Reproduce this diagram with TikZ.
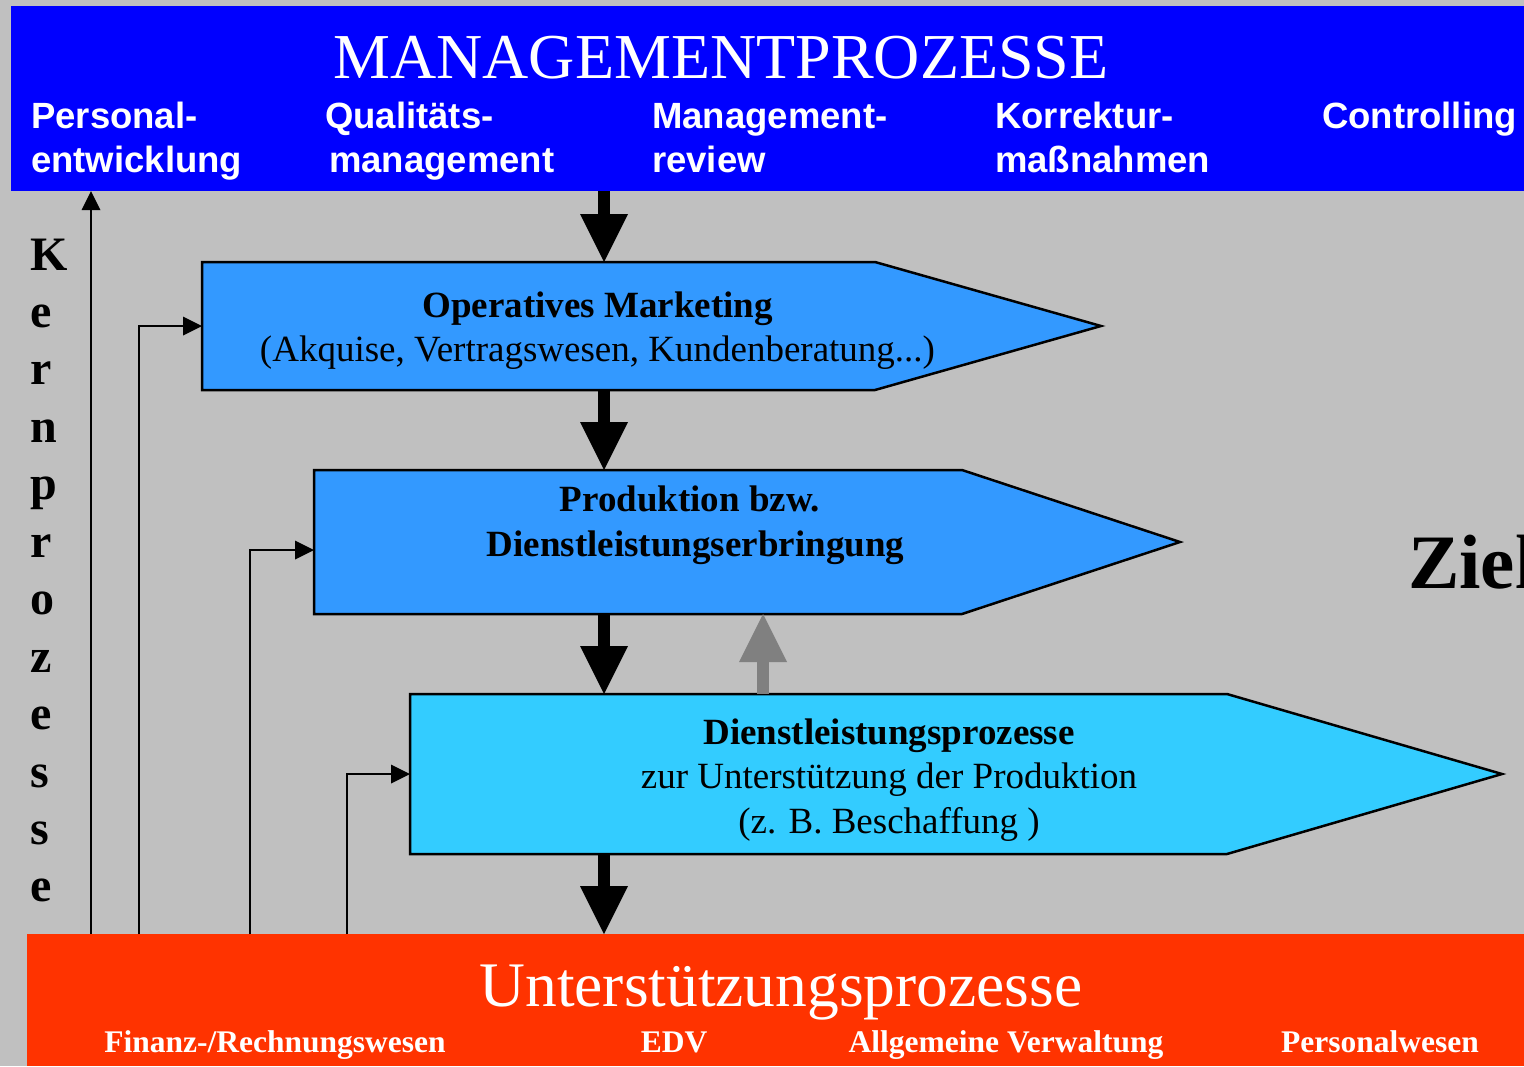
\documentclass[tikz,border=0pt]{standalone}
\usepackage{fontspec}
\setmainfont{Liberation Serif}
\newfontfamily\arialfont{Liberation Sans}
\usetikzlibrary{arrows.meta}
\definecolor{bggray}{HTML}{C0C0C0}
\definecolor{mgmtblue}{HTML}{0000FF}
\definecolor{boxblue}{HTML}{3399FF}
\definecolor{boxcyan}{HTML}{33CCFF}
\definecolor{suppred}{HTML}{FF3300}
\definecolor{arrowgray}{HTML}{808080}
\tikzset{
  band/.style={inner sep=0pt, outer sep=0pt, anchor=north west},
  rectpart/.style={inner sep=0pt, outer sep=0pt, anchor=north west},
  procbox/.style={draw=black, line width=2.5pt, line join=miter},
  bigarrow/.style={line width=12pt, draw=black, -{Triangle[length=48pt,width=48pt,line width=0pt]}},
  thinarrow/.style={line width=2pt, draw=black, -{Triangle[length=19pt,width=19pt,line width=0pt]}},
  titletxt/.style={text=white, inner sep=0pt, anchor=base, font=\fontsize{64}{70}\selectfont},
  subtxt/.style={text=white, inner sep=0pt, anchor=base west, font=\arialfont\bfseries\fontsize{36.5}{40}\selectfont},
  boxbold/.style={text=black, inner sep=0pt, anchor=base, font=\bfseries\fontsize{37}{40}\selectfont},
  boxreg/.style={text=black, inner sep=0pt, anchor=base, font=\fontsize{37}{40}\selectfont},
  suptitle/.style={text=white, inner sep=0pt, anchor=base, font=\fontsize{63.5}{70}\selectfont},
  suptxt/.style={text=white, inner sep=0pt, anchor=base, font=\bfseries\fontsize{31.5}{34}\selectfont},
  kerntxt/.style={text=black, inner sep=0pt, anchor=base west, font=\bfseries\fontsize{48}{50}\selectfont},
}
\begin{document}
\begin{tikzpicture}[x=1pt,y=-1pt]
\useasboundingbox (0,0) rectangle (1524,1066);
\clip (0,0) rectangle (1524,1066);
\fill[bggray] (0,0) rectangle (1524,1066);

% bands
\node[band, fill=mgmtblue, minimum width=1513pt, minimum height=185pt] (mgmt) at (11,6) {};
\node[band, fill=suppred, minimum width=1497pt, minimum height=132pt] (sup) at (27,934) {};

% process boxes (rectangular parts)
\node[rectpart, minimum width=673pt, minimum height=128pt] (op) at (202,262) {};
\node[rectpart, minimum width=648pt, minimum height=144pt] (pr) at (314,470) {};
\node[rectpart, minimum width=817pt, minimum height=160pt] (dl) at (410,694) {};

\path[procbox, fill=boxblue] (op.north west) -- (op.north east) -- ([xshift=226pt]op.east) -- (op.south east) -- (op.south west) -- cycle;
\path[procbox, fill=boxblue] (pr.north west) -- (pr.north east) -- ([xshift=218pt]pr.east) -- (pr.south east) -- (pr.south west) -- cycle;
\path[procbox, fill=boxcyan] (dl.north west) -- (dl.north east) -- ([xshift=275pt]dl.east) -- (dl.south east) -- (dl.south west) -- cycle;

% texts in the management band
\node[titletxt] (mtitle) at (721,78) {MANAGEMENTPROZESSE};
\node[subtxt] (pe1) at (31,128) {Personal-};
\node[subtxt] (pe2) at (31,172) {entwicklung};
\node[subtxt] (qm1) at (325,128) {Qualitäts-};
\node[subtxt] (qm2) at (329,172) {management};
\node[subtxt] (mr1) at (652,128) {Management-};
\node[subtxt] (mr2) at (652,172) {review};
\node[subtxt] (km1) at (995,128) {Korrektur-};
\node[subtxt] (km2) at (995,172) {maßnahmen};
\node[subtxt] (co1) at (1322,128) {Controlling};

% texts in process boxes
\node[boxbold] (opt1) at (597.5,317) {Operatives Marketing};
\node[boxreg] (opt2) at (597.5,361) {(Akquise, Vertragswesen, Kundenberatung...)};
\node[boxbold] (prt1) at (690,511) {Produktion bzw.};
\node[boxbold] (prt2) at (695.5,556) {Dienstleistungserbringung};
\node[boxbold] (dlt1) at (889,744) {Dienstleistungsprozesse};
\node[boxreg] (dlt2) at (889,788) {zur Unterstützung der Produktion};
\node[boxreg] (dlt3) at (889,833) {(z. B. Beschaffung )};

% support band texts
\node[suptitle] (stitle) at (781,1006) {Unterstützungsprozesse};
\node[suptxt] (s1) at (275,1052) {Finanz-/Rechnungswesen};
\node[suptxt] (s2) at (674,1052) {EDV};
\node[suptxt] (s3) at (1006,1052) {Allgemeine Verwaltung};
\node[suptxt] (s4) at (1380,1052) {Personalwesen};

% vertical word
\foreach \l [count=\i from 0] in {K,e,r,n,p,r,o,z,e,s,s,e}
  \node[kerntxt] (kern\i) at (30,{270+57.45*\i}) {\l};

\node[text=black, inner sep=0pt, anchor=base west, font=\bfseries\fontsize{77}{80}\selectfont] (ziel) at (1408,588) {Ziel};

% connector x positions
\coordinate (ax) at (604,0);
\coordinate (gx) at (763,0);
\coordinate (k0) at (91,0);
\coordinate (k1) at (139,0);
\coordinate (k2) at (250,0);
\coordinate (k3) at (347,0);

% big arrows
\draw[bigarrow] (mgmt.south -| ax) -- (op.north -| ax);
\draw[bigarrow] (op.south -| ax) -- (pr.north -| ax);
\draw[bigarrow] (pr.south -| ax) -- (dl.north -| ax);
\draw[bigarrow] (dl.south -| ax) -- (sup.north -| ax);
\draw[bigarrow, draw=arrowgray] (dl.north -| gx) -- (pr.south -| gx);

% thin connectors
\draw[thinarrow] (sup.north -| k0) -- (mgmt.south -| k0);
\draw[thinarrow] (sup.north -| k1) |- (op.west);
\draw[thinarrow] (sup.north -| k2) |- ([yshift=-8pt]pr.west);
\draw[thinarrow] (sup.north -| k3) |- (dl.west);
\end{tikzpicture}
\end{document}
